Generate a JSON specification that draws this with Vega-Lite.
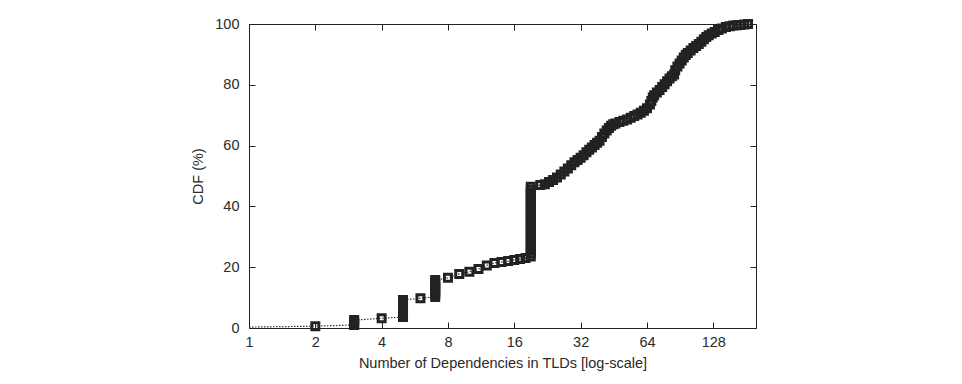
{
  "$schema": "https://vega.github.io/schema/vega-lite/v6.json",
  "width": 507,
  "height": 304,
  "autosize": {"type": "none"},
  "padding": {"left": 249, "top": 24, "right": 206, "bottom": 56},
  "background": "white",
  "config": {
    "view": {"stroke": "#222", "strokeWidth": 1},
    "font": "Liberation Sans",
    "axis": {
      "domain": false,
      "grid": false,
      "tickColor": "#222",
      "tickWidth": 1,
      "labelColor": "#2a2a2a",
      "titleColor": "#2a2a2a",
      "labelFont": "Liberation Sans",
      "titleFont": "Liberation Sans",
      "labelFontSize": 14.5,
      "titleFontSize": 14.5,
      "titleFontWeight": "normal",
      "labelFlush": false,
      "labelOverlap": false
    }
  },
  "data": {
    "values": [
      {"v": 1, "p": 0.3},
      {"v": 2, "p": 0.6},
      {"v": 3, "p": 1.0}, {"v": 3, "p": 1.4}, {"v": 3, "p": 1.8}, {"v": 3, "p": 2.2}, {"v": 3, "p": 2.6},
      {"v": 4, "p": 3.2},
      {"v": 5, "p": 3.6}, {"v": 5, "p": 4.4}, {"v": 5, "p": 5.2}, {"v": 5, "p": 6.0}, {"v": 5, "p": 6.8}, {"v": 5, "p": 7.6}, {"v": 5, "p": 8.4}, {"v": 5, "p": 9.2},
      {"v": 6, "p": 9.8},
      {"v": 7, "p": 10.2}, {"v": 7, "p": 11.0}, {"v": 7, "p": 11.8}, {"v": 7, "p": 12.6}, {"v": 7, "p": 13.4}, {"v": 7, "p": 14.2}, {"v": 7, "p": 15.0}, {"v": 7, "p": 15.8},
      {"v": 8, "p": 16.5},
      {"v": 9, "p": 17.8},
      {"v": 10, "p": 18.5},
      {"v": 11, "p": 19.4},
      {"v": 12, "p": 20.6},
      {"v": 13, "p": 21.4},
      {"v": 14, "p": 21.7},
      {"v": 15, "p": 22.0},
      {"v": 16, "p": 22.4},
      {"v": 17, "p": 22.7},
      {"v": 18, "p": 23.0},
      {"v": 19, "p": 23.5}, {"v": 19, "p": 24.5}, {"v": 19, "p": 25.5}, {"v": 19, "p": 26.5}, {"v": 19, "p": 27.5}, {"v": 19, "p": 28.5},
      {"v": 19, "p": 29.5}, {"v": 19, "p": 30.5}, {"v": 19, "p": 31.5}, {"v": 19, "p": 32.5}, {"v": 19, "p": 33.5}, {"v": 19, "p": 34.5},
      {"v": 19, "p": 35.5}, {"v": 19, "p": 36.5}, {"v": 19, "p": 37.5}, {"v": 19, "p": 38.5}, {"v": 19, "p": 39.5}, {"v": 19, "p": 40.5},
      {"v": 19, "p": 41.5}, {"v": 19, "p": 42.5}, {"v": 19, "p": 43.5}, {"v": 19, "p": 44.5}, {"v": 19, "p": 45.5}, {"v": 19, "p": 46.5},
      {"v": 21, "p": 47.0},
      {"v": 22, "p": 47.3},
      {"v": 23, "p": 48.0},
      {"v": 24, "p": 48.7},
      {"v": 25, "p": 49.5},
      {"v": 26, "p": 50.5},
      {"v": 27, "p": 51.5},
      {"v": 28, "p": 52.5},
      {"v": 29, "p": 53.5},
      {"v": 30, "p": 54.5},
      {"v": 31, "p": 55.3},
      {"v": 32, "p": 56.0},
      {"v": 33, "p": 56.8},
      {"v": 34, "p": 57.8},
      {"v": 35, "p": 58.6},
      {"v": 36, "p": 59.4},
      {"v": 37, "p": 60.2},
      {"v": 38, "p": 60.9},
      {"v": 39, "p": 61.6},
      {"v": 40, "p": 62.8},
      {"v": 41, "p": 64.0},
      {"v": 42, "p": 65.0},
      {"v": 43, "p": 65.8},
      {"v": 44, "p": 66.5},
      {"v": 45, "p": 67.0},
      {"v": 46, "p": 67.3},
      {"v": 48, "p": 67.8},
      {"v": 50, "p": 68.2},
      {"v": 52, "p": 68.6},
      {"v": 54, "p": 69.2},
      {"v": 56, "p": 69.7},
      {"v": 58, "p": 70.2},
      {"v": 60, "p": 70.8},
      {"v": 62, "p": 71.5},
      {"v": 64, "p": 72.3},
      {"v": 66, "p": 73.5},
      {"v": 67, "p": 74.7},
      {"v": 68, "p": 75.8},
      {"v": 69, "p": 76.6},
      {"v": 71, "p": 77.5},
      {"v": 73, "p": 78.3},
      {"v": 75, "p": 79.3},
      {"v": 77, "p": 80.2},
      {"v": 79, "p": 81.2},
      {"v": 81, "p": 82.1},
      {"v": 83, "p": 82.8},
      {"v": 85, "p": 83.4},
      {"v": 86, "p": 84.8},
      {"v": 88, "p": 86.0},
      {"v": 90, "p": 87.0},
      {"v": 92, "p": 88.0},
      {"v": 94, "p": 89.0},
      {"v": 96, "p": 89.8},
      {"v": 98, "p": 90.5},
      {"v": 101, "p": 91.3},
      {"v": 104, "p": 92.1},
      {"v": 107, "p": 92.8},
      {"v": 110, "p": 93.4},
      {"v": 113, "p": 94.2},
      {"v": 116, "p": 95.0},
      {"v": 119, "p": 95.7},
      {"v": 122, "p": 96.3},
      {"v": 126, "p": 96.9},
      {"v": 130, "p": 97.4},
      {"v": 135, "p": 98.0},
      {"v": 140, "p": 98.5},
      {"v": 146, "p": 99.0},
      {"v": 152, "p": 99.3},
      {"v": 158, "p": 99.5},
      {"v": 164, "p": 99.6},
      {"v": 170, "p": 99.7},
      {"v": 177, "p": 99.8},
      {"v": 184, "p": 100.0}
    ]
  },
  "layer": [
    {
      "mark": {"type": "line", "color": "#333", "strokeWidth": 1.2, "strokeDash": [1.5, 1.5], "clip": false},
      "encoding": {
        "x": {
          "field": "v", "type": "quantitative",
          "scale": {"type": "log", "base": 2, "domain": [1, 200], "nice": false},
          "axis": {
            "orient": "bottom",
            "values": [1, 2, 4, 8, 16, 32, 64, 128],
            "format": "d",
            "tickSize": -6,
            "labelPadding": 13,
            "title": "Number of Dependencies in TLDs [log-scale]",
            "titlePadding": 8
          }
        },
        "y": {
          "field": "p", "type": "quantitative",
          "scale": {"domain": [0, 100], "nice": false},
          "axis": {
            "orient": "left",
            "values": [0, 20, 40, 60, 80, 100],
            "tickSize": -6,
            "labelPadding": 16,
            "title": "CDF (%)",
            "titlePadding": 9
          }
        },
        "order": {"field": "p", "type": "quantitative"}
      }
    },
    {
      "transform": [{"filter": "datum.v > 1"}],
      "mark": {"type": "point", "shape": "square", "filled": false, "stroke": "#222", "strokeWidth": 3, "size": 49, "opacity": 1, "clip": false},
      "encoding": {
        "x": {
          "field": "v", "type": "quantitative",
          "scale": {"type": "log", "base": 2, "domain": [1, 200], "nice": false},
          "axis": {
            "orient": "top",
            "values": [1, 2, 4, 8, 16, 32, 64, 128],
            "tickSize": -6,
            "labels": false,
            "title": null
          }
        },
        "y": {
          "field": "p", "type": "quantitative",
          "scale": {"domain": [0, 100], "nice": false},
          "axis": {
            "orient": "right",
            "values": [0, 20, 40, 60, 80, 100],
            "tickSize": -6,
            "labels": false,
            "title": null
          }
        }
      }
    }
  ],
  "resolve": {"axis": {"x": "independent", "y": "independent"}}
}
